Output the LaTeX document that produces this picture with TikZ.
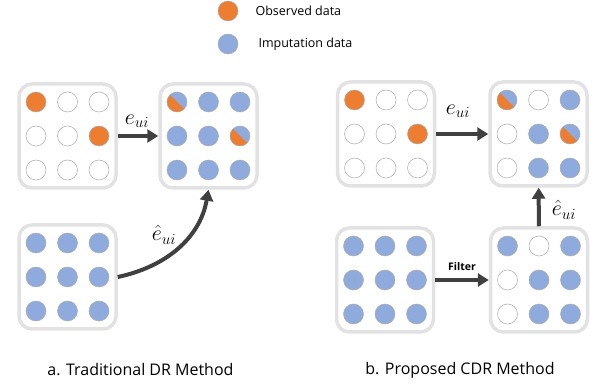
\RequirePackage{fix-cm}
\documentclass[tikz,border=0pt]{standalone}
\usepackage{fontspec}
\setmainfont{Open Sans}
\usetikzlibrary{arrows.meta}
\definecolor{obs}{HTML}{ED7D31}
\definecolor{imp}{HTML}{8FAADC}
\definecolor{rim}{HTML}{E2E2E2}
\definecolor{arr}{HTML}{404040}
\tikzset{
 panel/.style={draw=rim,line width=3.5pt,rounded corners=13pt,minimum width=97pt,minimum height=104pt,inner sep=0pt},
 dot/.style={circle,draw=gray!65,line width=0.5pt,minimum size=20pt,inner sep=0pt,fill=white},
 nodot/.style={dot},
 obsdot/.style={dot,fill=obs},
 impdot/.style={dot,fill=imp},
 halfdot/.style={dot,fill=imp,path picture={\fill[obs] (path picture bounding box.north west) -- (path picture bounding box.south east) -- (path picture bounding box.south west) -- cycle;}},
 flow/.style={draw=arr,line width=4pt,-{Triangle[length=11pt,width=13pt]}},
 lab/.style={font=\fontsize{22}{24}\selectfont},
}
% 3x3 cells of a panel, row by row
\newcommand{\cells}[2]{%
 \foreach \s [count=\k from 0] in {#2}{%
  \pgfmathtruncatemacro{\r}{div(\k,3)}%
  \pgfmathtruncatemacro{\c}{mod(\k,3)}%
  \node[style=\s] (#1\k) at ([shift={(\c*31.5-31.5,34-\r*34)}]#1) {};
 }}
\begin{document}
\begin{tikzpicture}[x=1pt,y=1pt]
 \useasboundingbox (0,0) rectangle (600,-387);
 % legend
 \node[obsdot] (kobs) at (228,-11) {};
 \node[impdot] (kimp) at (228,-44) {};
 \node[anchor=west,font=\fontsize{12.5}{14}\selectfont] (tobs) at (252,-11) {Observed data};
 \node[anchor=west,font=\fontsize{12.5}{14}\selectfont] (timp) at (255,-44) {Imputation data};
 % a. traditional DR
 \node[panel] (aO) at (67.5,-136) {};
 \node[panel] (aR) at (208.5,-136) {};
 \node[panel] (aP) at (67.5,-277) {};
 \cells{aO}{obsdot,nodot,nodot,nodot,nodot,obsdot,nodot,nodot,nodot}
 \cells{aR}{halfdot,impdot,impdot,impdot,impdot,halfdot,impdot,impdot,impdot}
 \cells{aP}{impdot,impdot,impdot,impdot,impdot,impdot,impdot,impdot,impdot}
 \draw[flow] (aO) -- (aR);
 \draw[flow] (aP.east) to[out=12,in=-100] (aR.south);
 \node[lab] (ae) at (137,-121) {$e_{ui}$};
 \node[lab] (ah) at (164,-235) {$\hat{e}_{ui}$};
 \node[font=\fontsize{16}{18}\selectfont] (capa) at (140.5,-370) {a. Traditional DR Method};
 % b. proposed CDR
 \node[panel] (bO) at (386,-134) {};
 \node[panel] (bR) at (538.5,-134) {};
 \node[panel] (bP) at (385,-280) {};
 \node[panel] (bF) at (539,-280) {};
 \cells{bO}{obsdot,nodot,nodot,nodot,nodot,obsdot,nodot,nodot,nodot}
 \cells{bR}{halfdot,nodot,impdot,nodot,impdot,halfdot,nodot,impdot,impdot}
 \cells{bP}{impdot,impdot,impdot,impdot,impdot,impdot,impdot,impdot,impdot}
 \cells{bF}{impdot,nodot,impdot,nodot,impdot,impdot,nodot,impdot,impdot}
 \draw[flow] (bO) -- (bR);
 \draw[flow] (bP) -- (bF);
 \draw[flow] (bF) -- (bR);
 \node[lab] (be) at (458,-111) {$e_{ui}$};
 \node[lab] (bh) at (564,-210) {$\hat{e}_{ui}$};
 \node[font=\fontsize{10.5}{12}\selectfont\bfseries] (filt) at (462,-267) {Filter};
 \node[font=\fontsize{16}{18}\selectfont] (capb) at (460,-370) {b. Proposed CDR Method};
\end{tikzpicture}
\end{document}
